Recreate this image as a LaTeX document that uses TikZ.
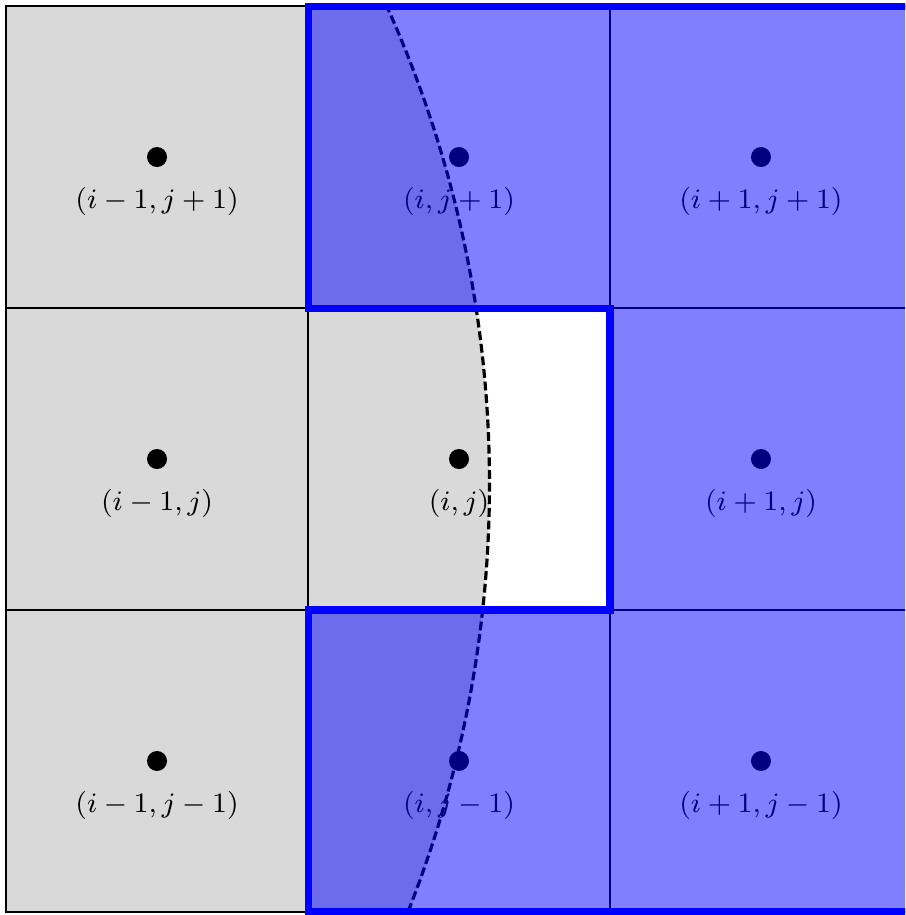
\documentclass[tikz,border=0pt]{standalone}
\usetikzlibrary{positioning}
\begin{document}
\begin{tikzpicture}[x=3.02cm, y=3.02cm,
    dot/.style={circle, fill=black, inner sep=0pt, minimum size=2mm},
    lbl/.style={font=\footnotesize, inner sep=1pt},
    front/.style={dash pattern=on 2.5pt off 1.1pt, line width=0.9pt}]
  \clip (-0.02,-0.01) rectangle (2.977,3.02);
  % shaded side of the front
  \begin{scope}
    \clip (0,0) rectangle (3,3);
    \fill[gray!30] (-2.25,1.417) circle (3.851);
  \end{scope}
  \draw (0,0) grid[step=3.02cm] (3,3);
  \draw[semithick] (0,0) rectangle (3,3);
  \foreach \x/\lx in {0/i-1, 1/i, 2/i+1}
    \foreach \y/\ly in {0/j-1, 1/j, 2/j+1} {
      \node[dot] (d\x\y) at (\x+0.5,\y+0.5) {};
      \node[lbl, on grid, below=4.4mm of d\x\y] (l\x\y) {$(\lx,\ly)$};
    }
  % the front
  \begin{scope}
    \clip (0,0) rectangle (3,3);
    \draw[front] (-2.25,1.417) ++(25:3.851) arc (25:-23:3.851);
  \end{scope}
  % neighbour cells
  \fill[blue, fill opacity=0.5] (1,3) -- (3,3) -- (3,0) -- (1,0) -- (1,1) -- (2,1) -- (2,2) -- (1,2) -- cycle;
  \draw[blue, line width=2pt] (1,3) -- (3,3) -- (3,0) -- (1,0) -- (1,1) -- (2,1) -- (2,2) -- (1,2) -- cycle;
\end{tikzpicture}
\end{document}
